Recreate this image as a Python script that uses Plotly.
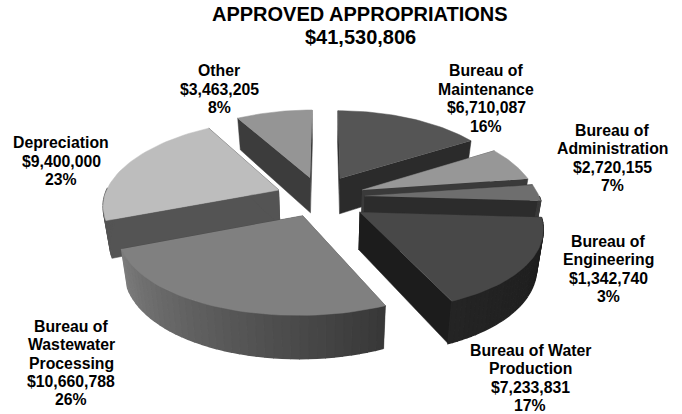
import numpy as np
import plotly.graph_objects as go

categories = [["Bureau of", "Maintenance"], ["Bureau of", "Administration"], ["Bureau of", "Engineering"],
              ["Bureau of Water", "Production"], ["Bureau of", "Wastewater", "Processing"], ["Depreciation"], ["Other"]]
values = [6710087, 2720155, 1342740, 7233831, 10660788, 9400000, 3463205]
percents = [16, 7, 3, 17, 26, 23, 8]
title_lines = ["APPROVED APPROPRIATIONS", "$41,530,806"]

# styling per slice
top_colors = ["#555555", "#979797", "#6e6e6e", "#484848", "#808080", "#bdbdbd", "#959595"]
side_colors = ["#2b2b2b", "#3a3a3a", "#2c2c2c", "#1c1c1c", "#4a4a4a", "#545454", "#3c3c3c"]
rim_from = ["#2b2b2b", "#3a3a3a", "#3a3a3a", "#1c1c1c", "#383838", "#545454", "#3c3c3c"]
rim_to = ["#2b2b2b", "#3a3a3a", "#3a3a3a", "#242424", "#7c7c7c", "#545454", "#3c3c3c"]
slice_shift_x = [0.089, 0.215, 0.227, 0.192, -0.123, -0.267, -0.089]
slice_shift_y = [-0.171, -0.025, 0.05, 0.245, 0.285, -0.025, -0.183]
draw_order = [6, 0, 1, 2, 5, 3, 4]
label_pos = [(486, 98.5), (612, 158), (608, 269), (530, 378), (71, 363), (61, 161), (219, 89)]
LINE_PITCH = 18.4

# projection
CX, CY, A, B, KX, KY, D, M = 325, 192, 173, 80, 0.16, 0.13, 36, 0.03


def project(X, Y, low):
    Y = np.asarray(Y, float)
    sx, sy = 1 / (1 - KX * Y), 1 / (1 - KY * Y)
    return (CX + A * np.asarray(X) * sx * ((1 - M) if low else 1),
            CY + B * Y * sy + (D * sy if low else 0))


def mix(c0, c1, t):
    a = [int(c0[i:i + 2], 16) for i in (1, 3, 5)]
    b = [int(c1[i:i + 2], 16) for i in (1, 3, 5)]
    return "rgb(%d,%d,%d)" % tuple(round(p + (q - p) * t) for p, q in zip(a, b))


fig = go.Figure()


def poly(x, y, color, width=0.5):
    fig.add_trace(go.Scatter(x=list(x), y=list(y), mode="lines", fill="toself", fillcolor=color,
                             line=dict(color=color, width=width), hoverinfo="skip", showlegend=False))


total = sum(values)
cum = np.concatenate([[0], np.cumsum(values)]) / total * 2 * np.pi

for i in draw_order:
    a0, a1 = cum[i], cum[i + 1]
    ox, oy = slice_shift_x[i], slice_shift_y[i]
    th = np.linspace(a0, a1, 40)
    X, Y = ox + np.sin(th), oy - np.cos(th)
    # radial faces
    for end in (a0, a1):
        ex, ey = ox + np.sin(end), oy - np.cos(end)
        xt, yt = project([ox, ex], [oy, ey], False)
        xb, yb = project([ox, ex], [oy, ey], True)
        poly(list(xt) + list(xb[::-1]), list(yt) + list(yb[::-1]), side_colors[i])
    # outer rim, shaded along the arc
    xt, yt = project(X, Y, False)
    xb, yb = project(X, Y, True)
    for j in range(len(th) - 1):
        if np.cos(th[j]) < 0.0:
            poly([xt[j], xt[j + 1], xb[j + 1], xb[j]], [yt[j], yt[j + 1], yb[j + 1], yb[j]],
                 mix(rim_from[i], rim_to[i], j / (len(th) - 2)), width=1.5)
    # top
    px, py = project(np.r_[ox, X], np.r_[oy, Y], False)
    poly(px, py, top_colors[i])

FONT = "Liberation Sans, Arial, sans-serif"


def text_line(x, y, s, size):
    fig.add_annotation(x=x, y=y, text=f"<b>{s}</b>", showarrow=False, align="center", xanchor="center",
                       yanchor="middle", font=dict(family=FONT, size=size, color="#000000"))


for i, (lx, ly) in enumerate(label_pos):
    lines = categories[i] + [f"${values[i]:,}", f"{percents[i]}%"]
    for k, s in enumerate(lines):
        text_line(lx, ly + (k - (len(lines) - 1) / 2) * LINE_PITCH, s, 15.8)
text_line(360, 13.5, title_lines[0], 20)
text_line(360, 37, title_lines[1], 20)

fig.update_layout(width=682, height=414, margin=dict(l=0, r=0, t=0, b=0), paper_bgcolor="white", plot_bgcolor="white",
                  xaxis=dict(range=[0, 682], visible=False, fixedrange=True),
                  yaxis=dict(range=[414, 0], visible=False, fixedrange=True))
fig.write_html("out.html", post_script="document.body.style.margin='0';", config=dict(displayModeBar=False))
